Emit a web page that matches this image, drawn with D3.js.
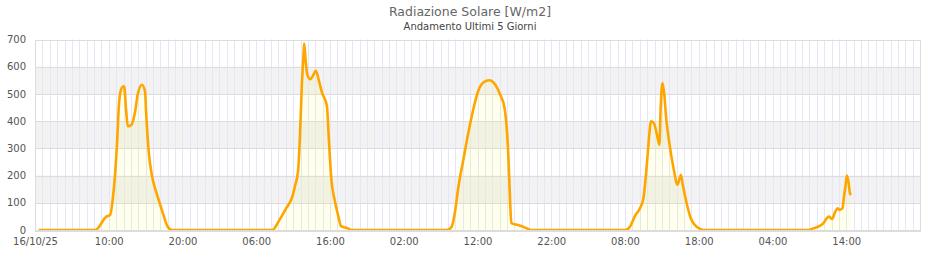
<!DOCTYPE html>
<html>
<head>
<meta charset="utf-8">
<script src="https://cdn.jsdelivr.net/npm/d3@7/dist/d3.min.js"></script>
<style>
  body { margin: 0; background: #fff; }
  svg { font-family: "DejaVu Sans", sans-serif; }
</style>
</head>
<body>
<svg class="chart" width="940" height="260"></svg>
<script>
// titoli
var title = "Radiazione Solare [W/m2]",
    subtitle = "Andamento Ultimi 5 Giorni";

// rilevazioni (ora locale) e valori W/m2
var times = [
  "2025-10-16 00:30","2025-10-16 08:10","2025-10-16 09:40","2025-10-16 10:10","2025-10-16 10:35",
  "2025-10-16 10:50","2025-10-16 11:05","2025-10-16 11:25","2025-10-16 11:45","2025-10-16 12:05",
  "2025-10-16 12:20","2025-10-16 12:35","2025-10-16 13:05","2025-10-16 13:35","2025-10-16 13:55",
  "2025-10-16 14:30","2025-10-16 14:55","2025-10-16 15:05","2025-10-16 15:25","2025-10-16 15:50",
  "2025-10-16 16:25","2025-10-16 16:55","2025-10-16 17:25","2025-10-16 18:00","2025-10-16 18:35",
  "2025-10-17 08:10","2025-10-17 09:10","2025-10-17 10:05","2025-10-17 10:50","2025-10-17 11:15",
  "2025-10-17 11:40","2025-10-17 11:55","2025-10-17 12:10","2025-10-17 12:25","2025-10-17 12:30",
  "2025-10-17 12:40","2025-10-17 12:55","2025-10-17 13:20","2025-10-17 13:40","2025-10-17 14:05",
  "2025-10-17 14:30","2025-10-17 14:55","2025-10-17 15:35","2025-10-17 15:50","2025-10-17 16:10",
  "2025-10-17 16:40","2025-10-17 17:05","2025-10-17 17:30","2025-10-17 18:20","2025-10-17 18:55",
  "2025-10-18 07:50","2025-10-18 08:30","2025-10-18 08:55","2025-10-18 09:25","2025-10-18 10:05",
  "2025-10-18 10:45","2025-10-18 11:25","2025-10-18 12:05","2025-10-18 12:50","2025-10-18 13:35",
  "2025-10-18 14:25","2025-10-18 15:05","2025-10-18 15:40","2025-10-18 16:10","2025-10-18 16:25",
  "2025-10-18 16:35","2025-10-18 17:30","2025-10-18 18:10","2025-10-18 18:55","2025-10-18 19:05",
  "2025-10-19 08:00","2025-10-19 08:40","2025-10-19 09:25","2025-10-19 09:55","2025-10-19 10:30",
  "2025-10-19 10:55","2025-10-19 11:20","2025-10-19 11:30","2025-10-19 11:55","2025-10-19 12:20",
  "2025-10-19 12:40","2025-10-19 12:50","2025-10-19 13:05","2025-10-19 13:20","2025-10-19 13:35",
  "2025-10-19 13:55","2025-10-19 14:20","2025-10-19 14:40","2025-10-19 15:05","2025-10-19 15:25",
  "2025-10-19 15:35","2025-10-19 15:50","2025-10-19 16:25","2025-10-19 16:55","2025-10-19 17:30",
  "2025-10-19 18:10","2025-10-19 18:35",
  "2025-10-20 08:55","2025-10-20 09:30","2025-10-20 10:25","2025-10-20 10:55","2025-10-20 11:20",
  "2025-10-20 11:40","2025-10-20 12:05","2025-10-20 12:30","2025-10-20 12:50","2025-10-20 13:05",
  "2025-10-20 13:30","2025-10-20 13:40","2025-10-20 13:55","2025-10-20 14:05","2025-10-20 14:20",
  "2025-10-20 14:30","2025-10-20 14:40"
];
var values = [
  0,0,49,55,123,
  196,300,473,522,528,
  448,381,387,436,497,
  534,510,424,288,203,
  141,98,55,12,0,
  0,38,81,118,161,
  216,339,523,646,685,
  634,572,554,566,585,
  548,505,456,339,192,
  106,56,14,7,0,
  0,12,61,160,258,
  356,442,510,543,550,
  534,497,448,282,110,
  25,18,12,3,0,
  0,12,55,74,117,
  227,362,399,393,350,
  313,448,540,497,411,
  338,264,215,166,190,
  203,166,92,43,18,
  4,0,
  0,6,15,25,43,
  49,41,67,80,74,
  80,117,166,200,172,
  135,129
];

// asse x: inizio/fine finestra, etichette ogni 10 ore; asse y
var xStart = "2025-10-16 00:00", xEnd = "2025-10-21 00:00";
var xTickHours = [0, 10, 20, 30, 40, 50, 60, 70, 80, 90, 100, 110];
var yTicks = [0, 100, 200, 300, 400, 500, 600, 700];

(function () {
  var parse = d3.timeParse("%Y-%m-%d %H:%M");
  var data = times.map(function (t, i) { return { t: parse(t), v: values[i] }; });

  var pLeft = 35, pRight = 920, pTop = 39.5, pBottom = 230,
      chart = d3.select("svg.chart");

  var t0 = parse(xStart), t1 = parse(xEnd);
  var xScale = d3.scaleTime().domain([t0, t1]).range([pLeft, pRight]),
      yScale = d3.scaleLinear().domain([0, 700]).range([pBottom, pTop]);

  // bande alternate
  chart.append("g").selectAll("rect")
    .data([100, 300, 500])
    .enter().append("rect")
    .attr("x", pLeft).attr("width", pRight - pLeft)
    .attr("y", function (d) { return yScale(d + 100); })
    .attr("height", function (d) { return yScale(d) - yScale(d + 100); })
    .attr("fill", "#f2f2f2");

  // griglia verticale oraria
  var hours = d3.timeHour.range(t0, t1);
  chart.append("g").selectAll("line")
    .data(hours)
    .enter().append("line")
    .attr("x1", function (d) { return Math.round(xScale(d)) + 0.5; })
    .attr("x2", function (d) { return Math.round(xScale(d)) + 0.5; })
    .attr("y1", pTop).attr("y2", pBottom)
    .attr("stroke", "#e6e6f7").attr("stroke-width", 1);

  // griglia orizzontale
  chart.append("g").selectAll("line")
    .data(yTicks)
    .enter().append("line")
    .attr("x1", pLeft).attr("x2", pRight)
    .attr("y1", function (d) { return Math.round(yScale(d)) + 0.5; })
    .attr("y2", function (d) { return Math.round(yScale(d)) + 0.5; })
    .attr("stroke", "#dcdcdc");

  // bordo
  chart.append("rect")
    .attr("x", pLeft + 0.5).attr("y", Math.round(pTop) + 0.5)
    .attr("width", pRight - pLeft).attr("height", Math.round(pBottom - pTop))
    .attr("fill", "none").attr("stroke", "#dcdcdc");

  chart.append("clipPath").attr("id", "plot")
    .append("rect").attr("x", pLeft).attr("y", pTop)
    .attr("width", pRight - pLeft).attr("height", pBottom - pTop);

  var area = d3.area().x(function (d) { return xScale(d.t); })
    .y0(yScale(0)).y1(function (d) { return yScale(d.v); })
    .curve(d3.curveMonotoneX);
  var line = d3.line().x(function (d) { return xScale(d.t); })
    .y(function (d) { return yScale(d.v); })
    .curve(d3.curveMonotoneX);

  var plot = chart.append("g").attr("clip-path", "url(#plot)");
  plot.append("path").attr("d", area(data))
    .attr("fill", "rgba(255,250,0,0.07)");
  plot.append("path").attr("d", line(data))
    .attr("fill", "none").attr("stroke", "#ffa500")
    .attr("stroke-width", 2.6).attr("stroke-linejoin", "round");

  // assi
  var fmtFirst = d3.timeFormat("%d/%m/%y"), fmtHour = d3.timeFormat("%H:%M");
  var xTicks = xTickHours.map(function (h) { return d3.timeHour.offset(t0, h); });
  var xAxis = d3.axisBottom(xScale).tickValues(xTicks).tickSize(0).tickPadding(8)
    .tickFormat(function (d, i) { return i === 0 ? fmtFirst(d) : fmtHour(d); });
  var yAxis = d3.axisLeft(yScale).tickValues(yTicks).tickSize(0).tickPadding(9);

  chart.append("g").attr("id", "xAxisG")
    .attr("transform", "translate(0," + pBottom + ")")
    .call(xAxis);
  chart.append("g").attr("id", "yAxisG")
    .attr("transform", "translate(" + pLeft + ",0)")
    .call(yAxis);

  chart.selectAll("#xAxisG path, #yAxisG path").remove();
  chart.selectAll("#xAxisG text, #yAxisG text")
    .attr("fill", "#555").style("font-size", "10px")
    .style("font-family", "DejaVu Sans, sans-serif");

  chart.append("text").attr("x", 470).attr("y", 15.5)
    .attr("text-anchor", "middle").attr("fill", "#666")
    .style("font-size", "12.5px").text(title);
  chart.append("text").attr("x", 470).attr("y", 29.5)
    .attr("text-anchor", "middle").attr("fill", "#444")
    .style("font-size", "10px").text(subtitle);
})();
</script>
</body>
</html>
